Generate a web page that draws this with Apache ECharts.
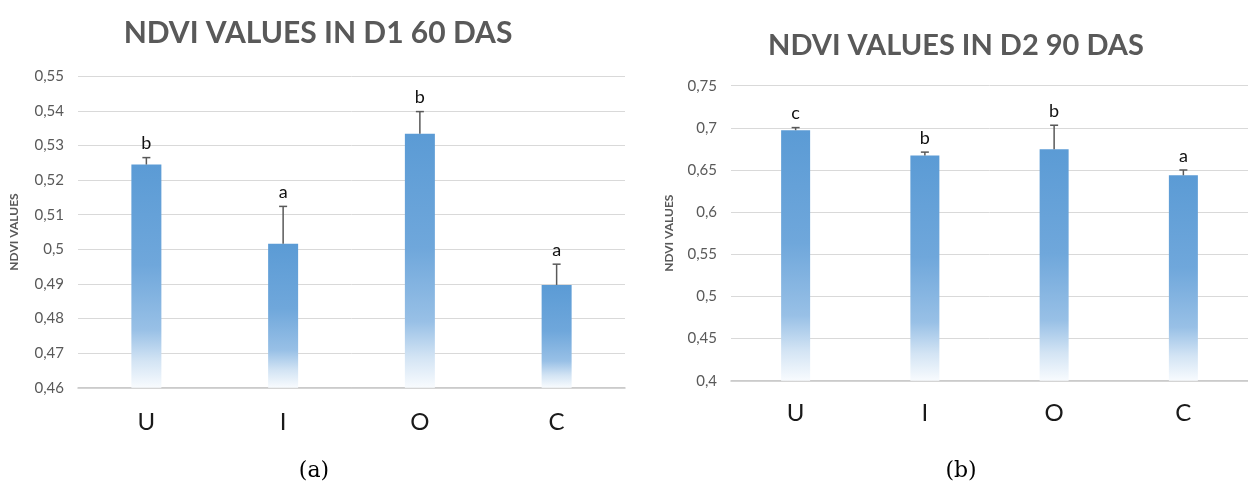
<!DOCTYPE html>
<html>
<head>
<meta charset="utf-8">
<script src="https://cdn.jsdelivr.net/npm/echarts@6/dist/echarts.min.js"></script>
<style>
html,body{margin:0;padding:0;background:#fff;}
#chart{width:1248px;height:495px;}
</style>
</head>
<body>
<div id="chart"></div>
<script>
// ---- data ----
var categories = ['U', 'I', 'O', 'C'];
var d1Mean = [0.5245, 0.5016, 0.5334, 0.4897];
var d1Err = [0.0020, 0.0108, 0.0064, 0.0060];
var d1Letters = ['b', 'a', 'b', 'a'];
var d2Mean = [0.6972, 0.6671, 0.6747, 0.6437];
var d2Err = [0.0031, 0.0041, 0.0284, 0.0063];
var d2Letters = ['c', 'b', 'b', 'a'];
var d1Ticks = {min: 0.46, max: 0.55, interval: 0.01};
var d2Ticks = {min: 0.40, max: 0.75, interval: 0.05};
var titles = ['NDVI VALUES IN D1 60 DAS', 'NDVI VALUES IN D2 90 DAS'];
var captions = ['(a)', '(b)'];
var yName = 'NDVI VALUES';

var FONT = 'Lato';
var chart = echarts.init(document.getElementById('chart'), null, {renderer: 'canvas'});

function barGradient() {
  return new echarts.graphic.LinearGradient(0, 0, 0, 1, [
    {offset: 0, color: '#5b9bd5'},
    {offset: 0.45, color: '#6fa7db'},
    {offset: 0.74, color: '#98c0e6'},
    {offset: 0.88, color: '#d3e4f4'},
    {offset: 1, color: '#f8fbfe'}
  ]);
}

function errData(mean, err, letters) {
  return mean.map(function (m, i) { return [i, m, m + err[i], letters[i]]; });
}

function renderErr(params, api) {
  var top = api.coord([api.value(0), api.value(1)]);
  var up = api.coord([api.value(0), api.value(2)]);
  var letter = params.seriesIndex === 1 ? d1Letters[params.dataIndex] : d2Letters[params.dataIndex];
  var stroke = {stroke: '#595959', lineWidth: 1.5};
  return {
    type: 'group',
    children: [
      {type: 'line', shape: {x1: top[0], y1: top[1], x2: up[0], y2: up[1]}, style: stroke},
      {type: 'line', shape: {x1: up[0] - 4, y1: up[1], x2: up[0] + 4, y2: up[1]}, style: stroke},
      {type: 'text', style: {text: letter, x: up[0], y: up[1] - 14, align: 'center', verticalAlign: 'middle',
        fontSize: 18, fontFamily: FONT, fill: '#111'}}
    ]
  };
}

function yFmt(v) { return String(+v.toFixed(2)).replace('.', ','); }

function yAxis(gi, t) {
  return {
    type: 'value', gridIndex: gi, min: t.min, max: t.max, interval: t.interval,
    name: yName, nameLocation: 'middle', nameGap: gi === 0 ? 58 : 56,
    nameTextStyle: {fontFamily: FONT, fontWeight: 'bold', fontSize: 12, color: '#595959'},
    axisLine: {show: false}, axisTick: {show: false},
    axisLabel: {fontFamily: FONT, fontSize: 15, color: '#595959', margin: 14, formatter: yFmt},
    splitLine: {lineStyle: {color: '#d9d9d9', width: 1}}
  };
}

function xAxis(gi, margin) {
  return {
    type: 'category', gridIndex: gi, data: categories,
    axisLine: {lineStyle: {color: '#c6c6c6', width: 1.5}}, axisTick: {show: false},
    axisLabel: {fontFamily: FONT, fontSize: 24, color: '#1a1a1a', margin: margin}
  };
}

var option = {
  animation: false,
  backgroundColor: '#ffffff',
  title: [
    {text: titles[0], left: 313, top: 13, textAlign: 'center',
      textStyle: {fontFamily: FONT, fontWeight: 'bold', fontSize: 30, color: '#595959'}},
    {text: titles[1], left: 951, top: 26, textAlign: 'center',
      textStyle: {fontFamily: FONT, fontWeight: 'bold', fontSize: 29, color: '#595959'}},
    {text: captions[0], left: 309, top: 455, textAlign: 'center',
      textStyle: {fontFamily: 'DejaVu Serif', fontWeight: 'normal', fontSize: 22, color: '#000'}},
    {text: captions[1], left: 956, top: 455, textAlign: 'center',
      textStyle: {fontFamily: 'DejaVu Serif', fontWeight: 'normal', fontSize: 22, color: '#000'}}
  ],
  grid: [
    {left: 78, top: 76.3, width: 547, height: 311.4},
    {left: 731, top: 85.7, width: 525, height: 295}
  ],
  xAxis: [xAxis(0, 23), xAxis(1, 21)],
  yAxis: [yAxis(0, d1Ticks), yAxis(1, d2Ticks)],
  series: [
    {type: 'bar', xAxisIndex: 0, yAxisIndex: 0, data: d1Mean, barWidth: 30,
      itemStyle: {color: barGradient()}},
    {type: 'custom', xAxisIndex: 0, yAxisIndex: 0, data: errData(d1Mean, d1Err, d1Letters),
      encode: {x: 0, y: [1, 2]}, renderItem: renderErr, z: 5},
    {type: 'bar', xAxisIndex: 1, yAxisIndex: 1, data: d2Mean, barWidth: 29,
      itemStyle: {color: barGradient()}},
    {type: 'custom', xAxisIndex: 1, yAxisIndex: 1, data: errData(d2Mean, d2Err, d2Letters),
      encode: {x: 0, y: [1, 2]}, renderItem: renderErr, z: 5}
  ]
};
chart.setOption(option);
</script>
</body>
</html>
